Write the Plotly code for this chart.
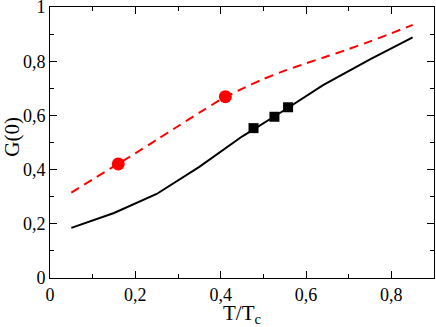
import plotly.graph_objects as go

# Data
red_curve_x = [0.05, 0.10, 0.15, 0.20, 0.25, 0.30, 0.35, 0.40, 0.45, 0.50, 0.55, 0.60, 0.65, 0.70, 0.75, 0.80, 0.85]
red_curve_y = [0.315, 0.364, 0.412, 0.460, 0.510, 0.560, 0.610, 0.658, 0.698, 0.734, 0.765, 0.792, 0.818, 0.845, 0.873, 0.903, 0.934]

red_points_x = [0.160, 0.411]
red_points_y = [0.421, 0.669]

black_curve_x = [0.05, 0.15, 0.25, 0.35, 0.45, 0.55, 0.64, 0.75, 0.85]
black_curve_y = [0.185, 0.240, 0.310, 0.410, 0.522, 0.620, 0.712, 0.807, 0.888]

black_points_x = [0.477, 0.526, 0.558]
black_points_y = [0.553, 0.595, 0.630]

x_tickvals = [0, 0.2, 0.4, 0.6, 0.8]
x_ticktext = ["0", "0,2", "0,4", "0,6", "0,8"]
y_tickvals = [0, 0.2, 0.4, 0.6, 0.8, 1.0]
y_ticktext = ["0", "0,2", "0,4", "0,6", "0,8", "1"]

x_title = "T/T<sub>c</sub>"
y_title = "G(0)"

font_family = "Liberation Serif"

fig = go.Figure()
fig.add_trace(go.Scatter(x=red_curve_x, y=red_curve_y, mode="lines",
                         line=dict(color="#ff0000", width=2, dash="9px,6px", shape="spline", smoothing=0.6),
                         showlegend=False, hoverinfo="skip"))
fig.add_trace(go.Scatter(x=black_curve_x, y=black_curve_y, mode="lines",
                         line=dict(color="#000000", width=2),
                         showlegend=False, hoverinfo="skip"))
fig.add_trace(go.Scatter(x=red_points_x, y=red_points_y, mode="markers",
                         marker=dict(color="#ff0000", size=13, symbol="circle"),
                         showlegend=False))
fig.add_trace(go.Scatter(x=black_points_x, y=black_points_y, mode="markers",
                         marker=dict(color="#000000", size=10, symbol="square"),
                         showlegend=False))

axis_common = dict(
    showgrid=False, zeroline=False, automargin=False,
    showline=True, linecolor="#000000", linewidth=1, mirror="allticks",
    ticks="inside", ticklen=7, tickcolor="#000000", tickwidth=1,
    tickfont=dict(family=font_family, size=18, color="#000000"),
    tickmode="array", ticklabeloverflow="allow",
)

fig.update_layout(
    width=436, height=327,
    margin=dict(l=50, r=2, t=7, b=49),
    paper_bgcolor="white", plot_bgcolor="white",
    font=dict(family=font_family, color="#000000"),
    xaxis=dict(range=[0, 0.9], tickvals=x_tickvals, ticktext=x_ticktext,
               minor=dict(ticks="inside", ticklen=4, dtick=0.1, tick0=0, tickcolor="#000000"),
               **axis_common),
    yaxis=dict(range=[0, 1], tickvals=y_tickvals, ticktext=y_ticktext,
               minor=dict(ticks="inside", ticklen=4, dtick=0.1, tick0=0, tickcolor="#000000"),
               **axis_common),
    annotations=[
        dict(text=x_title, xref="paper", yref="paper", x=0.5, y=-0.076,
             xanchor="center", yanchor="top", showarrow=False,
             font=dict(family=font_family, size=21, color="#000000")),
        dict(text=y_title, xref="paper", yref="paper", x=-0.1, y=0.52,
             xanchor="center", yanchor="middle", textangle=-90, showarrow=False,
             font=dict(family=font_family, size=21, color="#000000")),
    ],
)

fig.write_html(
    "out.html",
    config={"displayModeBar": False},
    post_script="document.body.style.margin='0';document.body.style.overflow='hidden';",
)
